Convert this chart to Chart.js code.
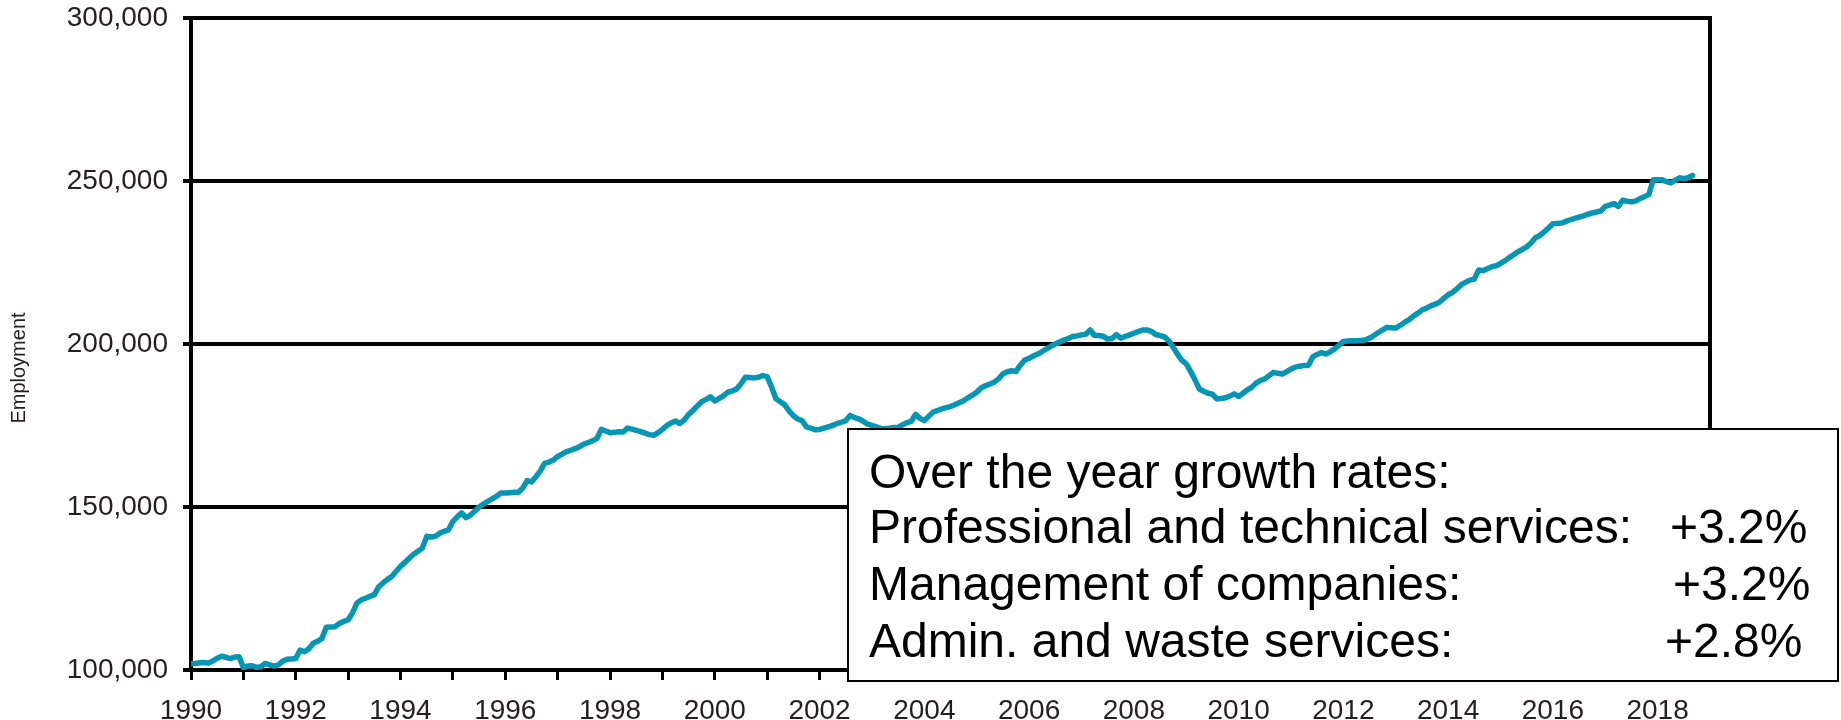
<!DOCTYPE html>
<html>
<head>
<meta charset="utf-8">
<script src="https://cdn.jsdelivr.net/npm/chart.js@4.4.1/dist/chart.umd.min.js"></script>
<style>
  html, body { margin: 0; padding: 0; background: #fff; }
  #wrap { width: 1841px; height: 720px; }
</style>
</head>
<body>
<div id="wrap"><canvas id="employmentChart" width="1841" height="720"></canvas></div>
<script>
// monthly employment, Jan 1990 .. Sep 2018 (one row per year)
var startYear = 1990;
var employment = [
  101900, 102000, 102200, 102300, 102100, 102800, 103600, 104200, 103900, 103500, 104000, 104100,
  100800, 101200, 101300, 100800, 101000, 102000, 101600, 101200, 101600, 102700, 103300, 103400,
  103500, 106100, 105600, 106500, 108200, 108800, 109700, 113100, 113200, 113300, 114300, 114900,
  115400, 117500, 120500, 121500, 122000, 122600, 123100, 125500, 126700, 127800, 128700, 130300,
  131800, 133000, 134300, 135500, 136400, 137400, 141000, 140800, 141000, 142000, 142500, 143000,
  145600, 147000, 148200, 146700, 147500, 148700, 150000, 150900, 151700, 152500, 153300, 154300,
  154300, 154400, 154500, 154500, 155800, 158100, 157700, 159300, 161000, 163400, 163800, 164400,
  165500, 166200, 167000, 167400, 167900, 168500, 169300, 169800, 170300, 171000, 173800, 173300,
  172800, 172900, 173100, 173000, 174200, 173900, 173500, 173100, 172700, 172200, 172000, 172800,
  173800, 175000, 175800, 176400, 175600, 176700, 178400, 179600, 181000, 182300, 183000, 183800,
  182500, 183300, 184100, 185200, 185600, 186200, 187800, 189800, 189700, 189600, 189800, 190300,
  190000, 186800, 183200, 182300, 181400, 179500, 178000, 177000, 176500, 174600, 174200, 173700,
  173800, 174200, 174600, 175000, 175600, 176000, 176500, 178100, 177400, 177000, 176300, 175400,
  175000, 174600, 174100, 174000, 174200, 174400, 174500, 175200, 175900, 176300, 178400, 177200,
  176500, 177800, 179100, 179600, 180100, 180500, 180800, 181400, 182000, 182600, 183500, 184300,
  185200, 186500, 187200, 187700, 188300, 189300, 190800, 191500, 191800, 191600, 193500, 195100,
  195600, 196300, 196900, 197700, 198500, 199300, 200000, 200600, 201200, 201700, 202300, 202500,
  202800, 203000, 204300, 202600, 202600, 202400, 201500, 201700, 202900, 201800, 202300, 202800,
  203300, 203800, 204300, 204300, 203900, 202900, 202600, 202200, 201000, 199000, 196900, 195000,
  193900, 191600, 189000, 186200, 185500, 184900, 184600, 183200, 183300, 183500, 184000, 184700,
  183900, 184900, 185900, 186700, 188000, 188800, 189300, 190300, 191300, 191000, 190800, 191500,
  192300, 192900, 193200, 193400, 193500, 196100, 196800, 197400, 196900, 197600, 198500, 199600,
  200800, 200900, 201000, 201000, 201100, 201200, 201800, 202600, 203500, 204300, 205100, 205000,
  204900, 205700, 206600, 207400, 208500, 209400, 210400, 211000, 211700, 212200, 212800, 214000,
  215100, 215800, 216900, 218200, 218900, 219600, 219900, 222700, 222500, 223100, 223700, 224000,
  224700, 225500, 226500, 227400, 228300, 229000, 229800, 231000, 232600, 233300, 234400, 235600,
  236900, 237000, 237100, 237600, 238100, 238500, 238900, 239300, 239800, 240200, 240500, 240800,
  242200, 242600, 243100, 242200, 244100, 243800, 243600, 243900, 244600, 245200, 245900, 250400,
  250400, 250400, 249800, 249400, 250200, 251000, 250700, 251000, 251700
];
var yearLabels = [1990, 1992, 1994, 1996, 1998, 2000, 2002, 2004, 2006, 2008, 2010, 2012, 2014, 2016, 2018];
var yTicks = [100000, 150000, 200000, 250000, 300000];
var growthTitle = 'Over the year growth rates:';
var growthLabels = ['Professional and technical services:', 'Management of companies:', 'Admin. and waste services:'];
var growthRates = ['+3.2%', '+3.2%', '+2.8%'];

var FONT = "'Liberation Sans', Arial, sans-serif";
var TEXT = '#231f20';

var points = employment.map(function(v, i) {
  return { x: startYear + i / 12, y: v };
});

// right border, y title and the growth-rate box
var overlay = {
  id: 'overlay',
  afterDraw: function(chart) {
    var ctx = chart.ctx;
    var area = chart.chartArea;
    ctx.save();
    ctx.strokeStyle = '#000';
    ctx.lineWidth = 4;
    ctx.beginPath();
    ctx.moveTo(area.right, area.top - 2);
    ctx.lineTo(area.right, area.bottom + 2);
    ctx.stroke();

    ctx.fillStyle = TEXT;
    ctx.font = '20px ' + FONT;
    ctx.textAlign = 'center';
    ctx.textBaseline = 'middle';
    ctx.translate(19, 368);
    ctx.rotate(-Math.PI / 2);
    ctx.fillText('Employment', 0, 0);
    ctx.restore();

    ctx.save();
    ctx.fillStyle = '#fff';
    ctx.fillRect(848, 429, 990, 252);
    ctx.strokeStyle = '#000';
    ctx.lineWidth = 2;
    ctx.strokeRect(848, 429, 990, 252);
    ctx.fillStyle = '#000';
    ctx.font = '48px ' + FONT;
    ctx.textBaseline = 'alphabetic';
    ctx.textAlign = 'left';
    ctx.fillText(growthTitle, 869, 488);
    var rateX = [1670, 1673, 1665];
    growthLabels.forEach(function(label, i) {
      var y = 543 + i * 57;
      ctx.fillText(label, 869, y);
      ctx.fillText(growthRates[i], rateX[i], y);
    });
    ctx.restore();
  }
};

var chart = new Chart(document.getElementById('employmentChart'), {
  type: 'line',
  data: {
    datasets: [{
      label: 'Employment',
      data: points,
      borderColor: '#0596b4',
      borderWidth: 5.5,
      borderJoinStyle: 'round',
      borderCapStyle: 'round',
      pointRadius: 0,
      tension: 0,
      fill: false
    }]
  },
  options: {
    responsive: false,
    animation: false,
    devicePixelRatio: 1,
    layout: { padding: { top: 18, right: 131, left: 0, bottom: 0 } },
    plugins: { legend: { display: false }, tooltip: { enabled: false } },
    scales: {
      x: {
        type: 'linear',
        min: 1990,
        max: 2019,
        afterFit: function(scale) { scale.height = 50; },
        ticks: {
          stepSize: 1,
          autoSkip: false,
          maxRotation: 0,
          padding: 14,
          color: TEXT,
          font: { family: FONT, size: 28 },
          callback: function(v) { return yearLabels.indexOf(v) >= 0 ? String(v) : ''; }
        },
        grid: { drawOnChartArea: false, drawTicks: true, tickLength: 10, tickWidth: 3, tickColor: '#000' },
        border: { display: true, color: '#000', width: 4 }
      },
      y: {
        min: 100000,
        max: 300000,
        afterFit: function(scale) {
          scale.width = 191;
          scale.paddingTop = 0;
          scale.paddingBottom = 0;
        },
        afterBuildTicks: function(scale) {
          scale.ticks = yTicks.map(function(v) { return { value: v }; });
        },
        ticks: {
          padding: 15,
          color: TEXT,
          font: { family: FONT, size: 28 },
          callback: function(v) { return v.toLocaleString('en-US'); }
        },
        grid: { color: '#000', lineWidth: 4, tickLength: 8, tickWidth: 4, tickColor: '#000' },
        border: { display: true, color: '#000', width: 4 }
      }
    }
  },
  plugins: [overlay]
});
</script>
</body>
</html>
